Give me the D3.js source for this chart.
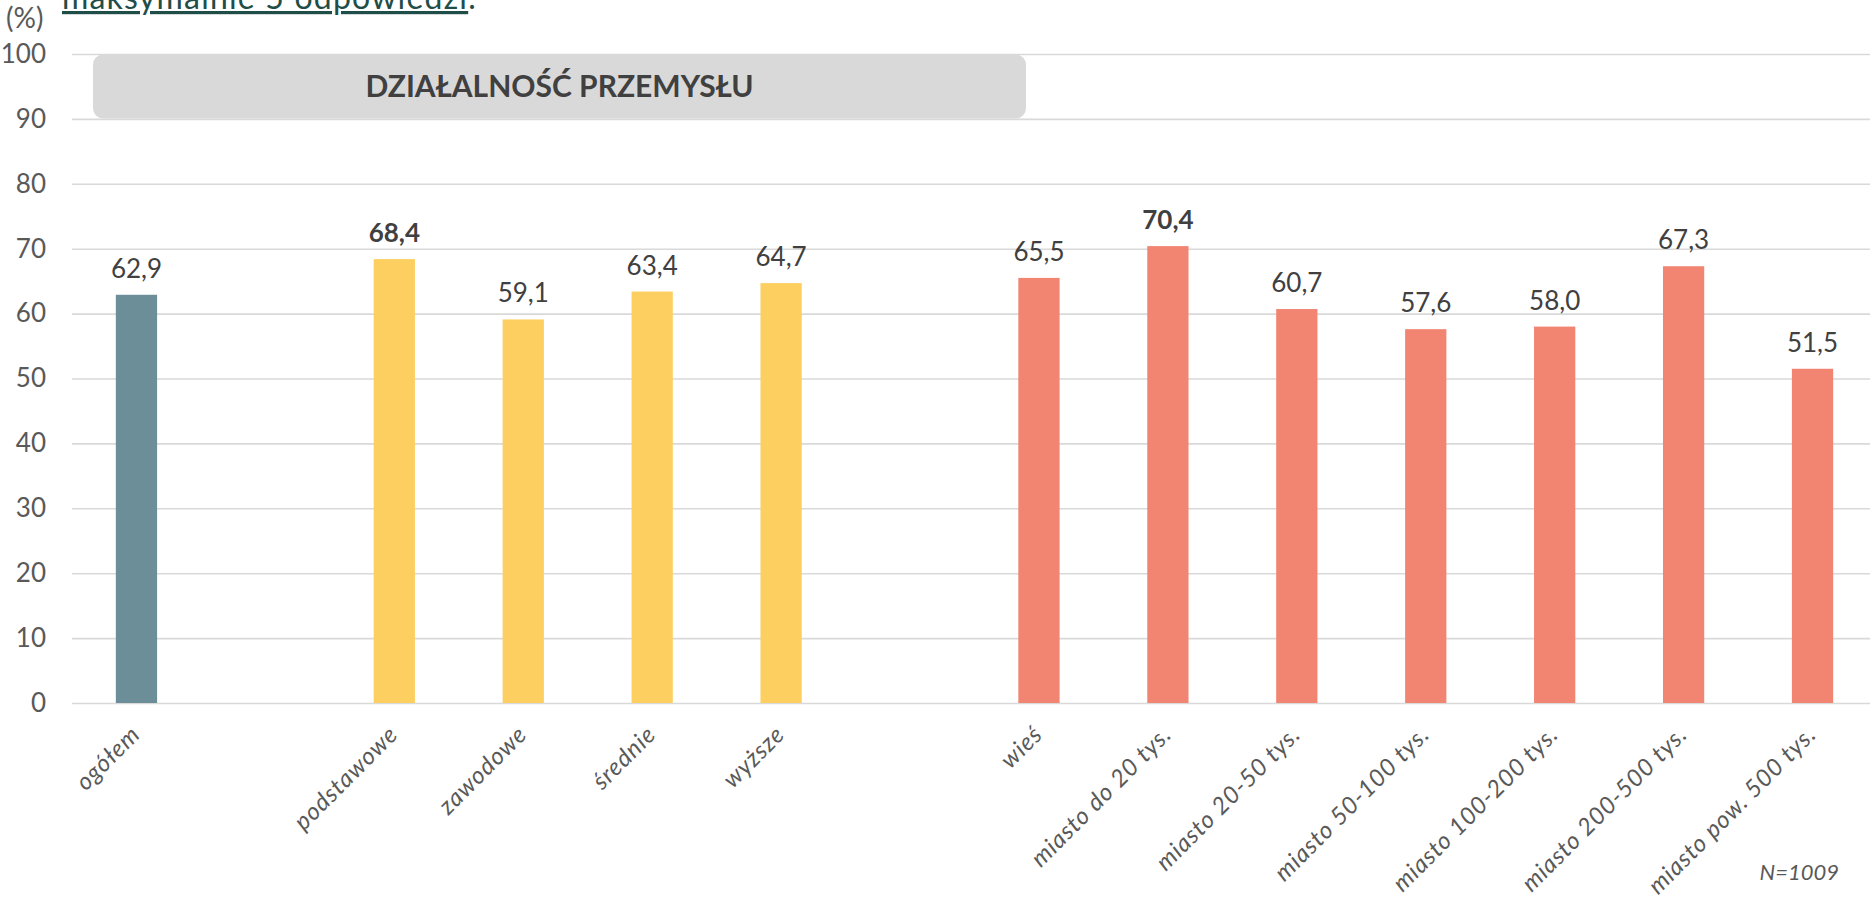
<!DOCTYPE html>
<html>
<head>
<meta charset="utf-8">
<script src="https://cdn.jsdelivr.net/npm/d3@7"></script>
<style>
  html, body { margin: 0; padding: 0; background: #ffffff; }
  svg { display: block; }
  text { font-family: "Century Gothic", "Lato", "Open Sans", sans-serif; }
</style>
</head>
<body>
<svg id="chart" width="1870" height="900"></svg>
<script>
// ---- data ----
const categories = ["ogółem", "", "podstawowe", "zawodowe", "średnie", "wyższe", " ",
  "wieś", "miasto do 20 tys.", "miasto 20-50 tys.", "miasto 50-100 tys.",
  "miasto 100-200 tys.", "miasto 200-500 tys.", "miasto pow. 500 tys."];
const values = [62.9, null, 68.4, 59.1, 63.4, 64.7, null, 65.5, 70.4, 60.7, 57.6, 58.0, 67.3, 51.5];
const groups = ["total", null, "edu", "edu", "edu", "edu", null, "place", "place", "place", "place", "place", "place", "place"];
const highlighted = ["podstawowe", "miasto do 20 tys."];
const yTicks = [0, 10, 20, 30, 40, 50, 60, 70, 80, 90, 100];
const title = "DZIAŁALNOŚĆ PRZEMYSŁU";
const topNote = "maksymalnie 5 odpowiedzi";
const unitLabel = "(%)";
const sampleNote = "N=1009";

// ---- layout ----
const svg = d3.select("#chart");
const mLeft = 72, mRight = 1877, mTop = 54, mBottom = 703;
const colors = { total: "#6C8E98", edu: "#FCCF60", place: "#F28472" };

const x = d3.scaleBand().domain(categories).range([mLeft, mRight])
  .paddingInner(0.68).paddingOuter(0.34);
const y = d3.scaleLinear().domain([0, 100]).range([mBottom, mTop]);

// grid + y axis
const yAxis = d3.axisLeft(y).tickValues(yTicks).tickSize(-(1870 - mLeft)).tickPadding(26)
  .tickFormat(d3.format("d"));
const gy = svg.append("g").attr("transform", `translate(${mLeft},0)`).call(yAxis);
gy.select(".domain").remove();
gy.selectAll(".tick line").attr("stroke", "#D9D9D9").attr("stroke-width", 1.6);
gy.selectAll(".tick text").attr("fill", "#595959").attr("font-size", 26).attr("font-weight", 400)
  .style("font-family", "'Century Gothic', Lato, sans-serif");

// title box (spans 90-100 band)
svg.append("rect")
  .attr("x", 93).attr("y", y(100) + 0.5)
  .attr("width", 933).attr("height", y(90) - y(100) - 1)
  .attr("rx", 10).attr("fill", "#D9D9D9");
svg.append("text")
  .attr("x", 559.5).attr("y", y(95) + 11)
  .attr("text-anchor", "middle").attr("font-size", 30).attr("font-weight", "bold")
  .attr("fill", "#404040").text(title);

// bars
const data = categories.map((c, i) => ({ c, v: values[i], g: groups[i] })).filter(d => d.v !== null);
svg.append("g").selectAll("rect").data(data).join("rect")
  .attr("x", d => x(d.c)).attr("width", x.bandwidth())
  .attr("y", d => y(d.v)).attr("height", d => y(0) - y(d.v))
  .attr("fill", d => colors[d.g]);

// value labels
const fmt = v => v.toFixed(1).replace(".", ",");
svg.append("g").selectAll("text").data(data).join("text")
  .attr("x", d => x(d.c) + x.bandwidth() / 2)
  .attr("y", d => y(d.v) - 17)
  .attr("text-anchor", "middle")
  .attr("font-size", 26)
  .attr("font-weight", d => highlighted.includes(d.c) ? "bold" : 400)
  .attr("fill", "#404040")
  .text(d => fmt(d.v));

// category labels (rotated)
svg.append("g").selectAll("text").data(data).join("text")
  .attr("transform", d => `translate(${x(d.c) + x.bandwidth() / 2 + 5},736) rotate(-45)`)
  .attr("text-anchor", "end")
  .attr("font-size", 24)
  .attr("font-style", "italic")
  .attr("font-weight", 400)
  .attr("letter-spacing", 0.9)
  .attr("fill", "#595959")
  .text(d => d.c);

// top note (cut off at the top edge, as in the source)
const tn = svg.append("text").attr("x", 62).attr("y", 9).attr("font-size", 32)
  .attr("font-weight", 400).attr("letter-spacing", 1.2).attr("fill", "#1F4E48");
tn.append("tspan").attr("text-decoration", "underline").text(topNote);
tn.append("tspan").text(".");

// unit label
svg.append("text").attr("x", 6).attr("y", 28).attr("font-size", 28).attr("font-weight", 400)
  .attr("fill", "#595959").text(unitLabel);

// sample note
svg.append("text").attr("x", 1839).attr("y", 880).attr("text-anchor", "end")
  .attr("font-size", 22).attr("font-style", "italic").attr("font-weight", 400)
  .attr("fill", "#595959").text(sampleNote);
</script>
</body>
</html>
